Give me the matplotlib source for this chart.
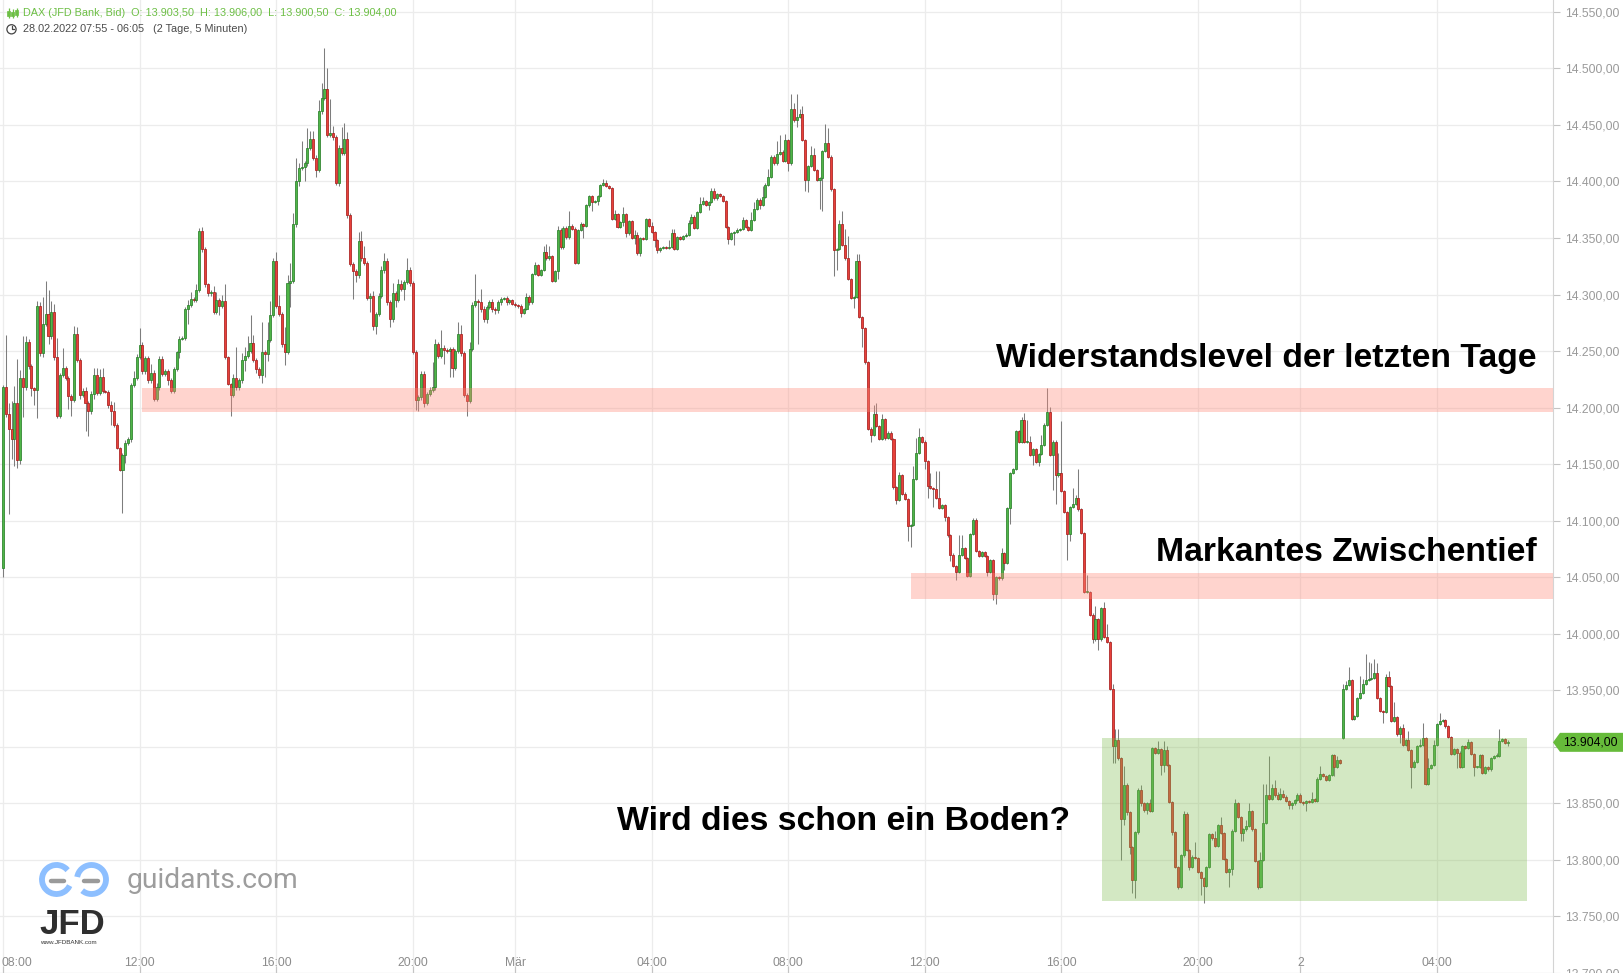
import numpy as np
import pandas as pd
import matplotlib
matplotlib.use("Agg")
import matplotlib.pyplot as plt
import matplotlib.transforms as mtransforms
from matplotlib.patches import Rectangle, Polygon, Arc, Circle

plt.rcParams['font.family'] = ['Liberation Sans', 'DejaVu Sans']

# ---------------- data ----------------
sessions = [("2022-02-28 08:00", "2022-02-28 21:55"),
            ("2022-02-28 23:00", "2022-03-01 21:55"),
            ("2022-03-01 23:00", "2022-03-02 06:05")]

first_open = 14058
gap_opens = {471: 13908}

closes = [
    14218,14194,14181,14172,14204,14154,14226,14218,14258,14237,
    14217,14216,14290,14248,14274,14283,14263,14285,14245,14193,
    14229,14235,14226,14210,14207,14265,14242,14211,14215,14204,
    14197,14212,14229,14213,14227,14215,14214,14202,14197,14185,
    14164,14145,14158,14169,14172,14220,14226,14245,14255,14232,
    14244,14224,14231,14208,14218,14243,14230,14232,14224,14215,
    14234,14249,14261,14262,14287,14291,14296,14295,14304,14356,
    14340,14309,14301,14302,14285,14295,14290,14294,14245,14221,
    14211,14226,14218,14224,14242,14246,14250,14257,14242,14234,
    14229,14249,14247,14260,14282,14330,14290,14283,14256,14249,
    14310,14312,14362,14400,14412,14413,14416,14430,14438,14421,
    14410,14462,14474,14482,14441,14443,14439,14399,14430,14425,
    14438,14370,14327,14321,14317,14347,14332,14328,14297,14299,
    14272,14283,14299,14322,14330,14293,14278,14301,14295,14309,
    14305,14311,14322,14310,14249,14207,14209,14230,14204,14212,
    14216,14218,14256,14246,14253,14251,14250,14252,14235,14250,
    14265,14248,14211,14206,14252,14291,14294,14293,14287,14278,
    14289,14293,14287,14286,14293,14296,14297,14293,14295,14292,
    14291,14290,14284,14287,14298,14293,14318,14326,14317,14322,
    14338,14332,14334,14312,14321,14357,14342,14359,14351,14361,
    14358,14328,14357,14362,14361,14379,14387,14382,14383,14387,
    14397,14399,14396,14394,14367,14371,14360,14364,14371,14354,
    14365,14350,14353,14337,14350,14349,14367,14361,14355,14348,
    14339,14341,14342,14341,14342,14354,14340,14351,14349,14352,
    14353,14363,14369,14359,14373,14380,14383,14379,14382,14392,
    14385,14389,14387,14383,14360,14349,14354,14355,14357,14358,
    14366,14360,14357,14366,14376,14384,14379,14386,14397,14404,
    14422,14416,14424,14426,14418,14437,14416,14464,14454,14457,
    14460,14437,14401,14414,14423,14410,14401,14403,14427,14434,
    14422,14393,14339,14340,14362,14344,14332,14314,14297,14298,
    14330,14280,14270,14240,14181,14176,14194,14184,14172,14190,
    14173,14178,14172,14130,14118,14140,14124,14119,14095,14096,
    14137,14160,14174,14170,14153,14131,14129,14128,14120,14111,
    14114,14103,14087,14070,14060,14055,14070,14076,14067,14051,
    14088,14101,14073,14069,14072,14069,14055,14065,14035,14050,
    14049,14071,14063,14111,14142,14146,14179,14170,14189,14170,
    14170,14158,14163,14152,14159,14167,14185,14196,14158,14170,
    14140,14142,14126,14108,14088,14112,14115,14120,14110,14089,
    14037,14037,14017,13995,14013,13995,14023,13997,13993,13951,
    13901,13906,13890,13836,13866,13842,13811,13782,13825,13862,
    13850,13844,13850,13843,13899,13895,13898,13884,13897,13884,
    13851,13825,13794,13776,13804,13841,13809,13794,13803,13802,
    13789,13784,13777,13794,13823,13819,13812,13831,13824,13801,
    13789,13792,13826,13850,13838,13824,13827,13830,13843,13827,
    13799,13776,13800,13833,13857,13854,13864,13857,13854,13858,
    13856,13852,13849,13850,13853,13857,13851,13850,13852,13851,
    13854,13852,13872,13876,13874,13871,13875,13893,13882,13888,
    13886,13951,13955,13959,13925,13927,13943,13948,13956,13959,
    13960,13961,13965,13943,13932,13931,13962,13954,13923,13926,
    13911,13917,13902,13906,13897,13882,13887,13901,13902,13908,
    13867,13881,13884,13902,13920,13923,13924,13918,13909,13894,
    13898,13895,13882,13901,13899,13904,13894,13882,13882,13893,
    13877,13882,13880,13890,13892,13892,13905,13907,13903.5,13904,
]

upper_wick = [
    2,46,10,25,15,39,7,37,5,3,  2,1,4,3,24,29,21,9,7,17,
    2,18,2,2,2,7,6,2,2,3,  2,3,6,6,7,8,1,2,4,8,
    1,1,2,2,2,2,6,2,15,3,  2,2,8,2,4,3,3,2,2,2,
    2,1,2,1,2,4,6,2,5,3,  4,2,1,2,6,7,2,6,15,1,
    1,4,28,2,6,8,13,25,7,2,  2,27,2,16,12,2,8,10,2,15,
    7,16,10,21,4,23,2,17,7,7,  2,10,13,36,18,30,6,2,2,18,
    14,6,2,2,2,8,9,11,2,2,  4,2,2,3,7,2,2,9,2,5,
    4,2,10,2,2,2,2,2,2,2,  2,22,5,2,16,2,2,2,2,2,
    11,8,2,2,6,2,24,2,12,3,  2,2,3,2,2,2,1,2,1,1,
    1,1,2,1,3,2,1,3,1,1,  5,7,9,1,1,4,2,2,2,13,
    1,2,1,2,1,1,1,1,1,1,  1,3,2,1,1,4,1,1,6,1,
    1,1,4,2,1,1,1,1,3,1,  1,1,1,1,6,4,4,1,1,1,
    1,3,2,1,1,6,3,1,1,2,  2,1,1,1,1,1,1,1,2,1,
    3,1,1,7,6,1,1,10,2,7,  1,1,12,15,2,5,1,13,5,20,
    4,7,1,1,8,7,1,1,1,17,  13,1,1,1,4,12,14,20,1,1,
    6,6,1,1,1,2,8,10,1,4,  1,1,1,1,1,3,1,1,1,1,
    11,13,8,1,1,1,11,1,16,24,  1,1,1,1,1,1,17,11,1,1,
    1,1,1,1,1,1,1,1,1,1,  1,5,1,1,1,1,1,1,3,6,
    19,5,1,1,1,9,1,21,5,1,  1,18,46,1,1,1,14,3,26,1,
    1,15,1,1,12,1,1,5,12,1,  5,10,10,1,17,2,1,1,1,2,
    4,1,1,4,1,1,7,1,8,4,  1,1,1,1,1,2,1,1,1,13,
    1,1,1,1,1,1,7,1,7,1,  1,1,1,4,1,1,1,5,7,1,
    1,1,7,34,10,35,3,7,3,6,  4,1,1,1,1,2,2,1,1,1,
    6,1,1,7,1,1,1,1,1,4,  1,5,3,12,1,1,1,15,4,23,
    15,13,13,9,1,1,2,5,1,14,  1,1,3,1,8,1,1,1,5,13,
    1,9,1,4,1,7,1,1,1,1,  1,1,1,1,1,3,1,1,1,1,
    1,1,1,1,1,3,11,1,1,2,
]

lower_wick = [
    8,2,75,17,24,7,4,26,2,3,  7,14,25,2,3,2,7,2,3,2,
    2,2,2,11,14,2,2,3,2,25,  22,3,4,2,2,2,1,2,12,2,
    1,1,38,7,2,2,2,2,2,2,  2,2,2,2,2,2,2,2,4,2,
    2,2,5,1,2,13,2,2,2,2,  2,2,2,2,2,2,8,2,2,1,
    18,2,2,2,2,10,2,2,2,3,  3,7,20,6,2,2,2,2,2,11,
    2,21,2,2,4,2,13,2,2,2,  6,2,2,2,2,2,2,2,3,2,
    2,2,2,25,6,2,2,2,2,12,  3,7,2,2,3,2,7,2,6,2,
    2,10,2,2,2,9,10,2,3,2,  2,2,2,2,2,12,2,23,8,2,
    2,2,2,13,2,2,2,37,2,2,  3,2,2,3,2,2,1,2,1,1,
    2,2,4,1,1,2,1,1,1,1,  1,1,1,1,1,7,2,2,2,2,
    1,1,1,1,11,1,2,8,1,4,  1,1,1,1,1,1,1,1,3,3,
    1,1,5,2,3,1,1,1,1,6,  2,1,1,1,1,1,1,1,1,1,
    1,1,1,1,1,1,1,1,4,1,  1,1,1,1,1,4,1,10,1,1,
    1,1,1,1,1,1,3,1,1,1,  1,1,1,1,1,1,7,1,1,6,
    1,1,9,10,1,1,1,25,29,1,  1,1,23,17,1,1,1,1,1,9,
    1,1,16,1,1,6,1,1,1,1,  2,1,1,2,3,1,1,1,13,18,
    1,1,1,1,7,11,1,16,1,1,  1,3,1,6,1,7,1,1,1,1,
    1,1,1,1,1,1,4,1,5,9,  1,1,7,1,14,1,1,1,1,1,
    1,1,9,1,4,1,1,1,1,31,  25,1,1,1,23,6,1,1,1,1,
    1,1,1,3,1,9,1,1,1,1,  15,15,2,36,5,2,6,11,16,2,
    2,2,3,1,1,1,1,9,6,1,  1,3,1,2,1,1,1,3,1,1,
    1,15,15,1,1,1,1,1,1,1,  1,13,5,1,1,7,7,1,1,1,
    1,2,1,1,1,1,1,1,1,1,  1,1,4,4,1,1,1,1,7,1,
    1,1,1,1,1,1,1,1,8,1,  1,1,1,1,1,1,1,1,1,1,
    1,1,1,1,1,10,1,1,1,1,  1,8,1,1,1,18,1,1,1,1,
    1,1,1,1,1,1,1,1,1,1,  1,14,1,1,1,1,1,8,1,1,
    1,1,1,1,1,1,1,1,1,3,
]

# zones (price low, price high, first candle index, last candle index)
resistance_zone = (14196, 14217, 48.9, None)
swing_low_zone = (14031, 14054, 319.0, None)
base_box = (13764, 13908, 386.3, 535.7)

y_ticks = list(range(13700, 14551, 50))
hour_ticks = [0, 4, 8, 12, 16, 20]
month_names = {3: "Mär"}

header1 = "DAX (JFD Bank, Bid)  O: 13.903,50  H: 13.906,00  L: 13.900,50  C: 13.904,00"
header2 = "28.02.2022 07:55 - 06:05   (2 Tage, 5 Minuten)"
label_resist = "Widerstandslevel der letzten Tage"
label_swing = "Markantes Zwischentief"
label_base = "Wird dies schon ein Boden?"

# ---------------- derived ----------------
times = pd.DatetimeIndex(np.concatenate(
    [pd.date_range(a, b, freq="5min").values for a, b in sessions]))
n = len(closes)
idx = np.arange(n)
c = np.array(closes, dtype=float)
o = np.empty(n)
o[0] = first_open
o[1:] = c[:-1]
for k, v in gap_opens.items():
    o[k] = v
hi = np.maximum(o, c) + np.array(upper_wick)
lo = np.minimum(o, c) - np.array(lower_wick)

def de_fmt(v):
    return f"{v:,.2f}".replace(",", "X").replace(".", ",").replace("X", ".")

# ---------------- figure ----------------
W, H = 1623, 973
fig = plt.figure(figsize=(W / 100, H / 100), dpi=100)
fig.patch.set_facecolor("white")
ax_right_px = 1553
ax = fig.add_axes([0, 0, ax_right_px / W, 1])
px_per_idx = 2.845
x0_px = 3.0
ax.set_xlim(-x0_px / px_per_idx, (ax_right_px - x0_px) / px_per_idx)
ax.set_ylim(13700.6, 14560.5)

# grid
tick_idx = [i for i, t in enumerate(times) if t.minute == 0 and t.hour in hour_ticks]
tick_lab = []
for i in tick_idx:
    t = times[i]
    if t.hour == 0:
        tick_lab.append(month_names.get(t.month, str(t.day)) if t.day == 1 else str(t.day))
    else:
        tick_lab.append(t.strftime("%H:%M"))
for i in tick_idx:
    ax.axvline(i, color="#ececec", lw=0.9, zorder=0)
for v in y_ticks:
    ax.axhline(v, color="#ececec", lw=0.9, zorder=0)

# candles
green_fill, green_edge = "#4fb548", "#2a802a"
red_fill, red_edge = "#e8413a", "#a81d1d"
up = c >= o
ax.vlines(idx, lo, hi, color="#7d7d7d", lw=0.75, zorder=2)
body_bot = np.minimum(o, c)
body_h = np.maximum(np.abs(c - o), 0.9)
ax.bar(idx, body_h, bottom=body_bot, width=0.72,
       color=np.where(up, green_fill, red_fill),
       edgecolor=np.where(up, green_edge, red_edge), linewidth=0.55, zorder=3)

# zones
xr = ax.get_xlim()[1]
for (z0, z1, xs, xe) in [resistance_zone, swing_low_zone]:
    xe = xr if xe is None else xe
    ax.add_patch(Rectangle((xs, z0), xe - xs, z1 - z0, facecolor="#ff8a78",
                           alpha=0.36, edgecolor="none", zorder=4))
z0, z1, xs, xe = base_box
ax.add_patch(Rectangle((xs, z0), xe - xs, z1 - z0, facecolor="#80bd50",
                       alpha=0.34, edgecolor="none", zorder=4))

# axes styling
for s in ["top", "left"]:
    ax.spines[s].set_visible(False)
ax.spines["right"].set_color("#d4d4d4")
ax.spines["bottom"].set_color("#e2e2e2")
ax.yaxis.tick_right()
ax.set_yticks(y_ticks)
last_close = closes[-1]
ax.set_yticklabels(["" if abs(v - last_close) < 10 else de_fmt(v) for v in y_ticks])
ax.tick_params(axis="y", direction="out", length=5, color="#c4c4c4",
               labelcolor="#9a9a9a", labelsize=8.7, pad=4)
ax.set_xticks(tick_idx)
ax.set_xticklabels([])
ax.tick_params(axis="x", direction="in", length=5, color="#c4c4c4")
bt = mtransforms.blended_transform_factory(ax.transData, ax.transAxes)
for k, (i, lab) in enumerate(zip(tick_idx, tick_lab)):
    if k == 0:
        ax.text(ax.get_xlim()[0] + 0.7, 10 / H, lab, transform=bt, ha="left",
                va="center", fontsize=8.7, color="#8c8c8c", zorder=6)
    else:
        ax.text(i, 10 / H, lab, transform=bt, ha="center", va="center",
                fontsize=8.7, color="#8c8c8c", zorder=6)

# ---------------- overlay (pixel coordinates) ----------------
ov = fig.add_axes([0, 0, 1, 1], zorder=10)
ov.set_xlim(0, W)
ov.set_ylim(H, 0)
ov.axis("off")
ov.patch.set_visible(False)

# header icon (three small candles)
g = "#6dbf45"
for xx, top, bot, b0, b1 in [(8.5, 8, 18, 11, 15.5), (12.5, 9, 18, 12, 16), (16.5, 8, 17, 10, 14.5)]:
    ov.plot([xx, xx], [top, bot], color=g, lw=0.9, solid_capstyle="butt")
    ov.add_patch(Rectangle((xx - 1.4, b0), 2.8, b1 - b0, facecolor=g, edgecolor=g, lw=0.5))
ov.text(23, 13.3, header1, color=g, fontsize=7.8, ha="left", va="center")
ov.add_patch(Circle((11.5, 29.3), 4.6, fill=False, edgecolor="#444444", lw=0.9))
ov.plot([11.5, 11.5, 14.0], [26.3, 29.3, 29.3], color="#444444", lw=0.9)
ov.text(23, 29.3, header2, color="#4a4a4a", fontsize=7.8, ha="left", va="center")

# annotations
ov.text(1537, 367, label_resist, fontsize=24.3, fontweight="bold", color="black",
        ha="right", va="baseline")
ov.text(1537, 561, label_swing, fontsize=24.3, fontweight="bold", color="black",
        ha="right", va="baseline")
ov.text(617, 830, label_base, fontsize=24.3, fontweight="bold", color="black",
        ha="left", va="baseline")

# price marker
y_last = H - ax.transData.transform((0, last_close))[1]
ov.add_patch(Polygon([(1553, y_last), (1560, y_last - 9.5), (W, y_last - 9.5),
                      (W, y_last + 9.5), (1560, y_last + 9.5)], closed=True,
                     facecolor="#66bb3a", edgecolor="none"))
ov.text(1563, y_last, de_fmt(last_close), fontsize=8.7, color="black",
        ha="left", va="center")

# logo
blue = "#8dbfff"
ov.add_patch(Arc((56.5, 879.5), 29, 29, theta1=25, theta2=320, color=blue, lw=4.2))
ov.add_patch(Arc((91.5, 879.5), 29, 29, theta1=190, theta2=490, color=blue, lw=4.2))
ov.plot([51, 64], [881, 881], color="#9a9a9a", lw=3.2, solid_capstyle="round")
ov.plot([84, 98], [881, 881], color="#9a9a9a", lw=3.2, solid_capstyle="round")
ov.text(127, 880, "guidants.com", fontsize=20.3, color="#9d9d9d", ha="left",
        va="center", family=["Roboto", "DejaVu Sans"])
ov.text(39, 925, "JFD", fontsize=25, fontweight="bold", color="#2f2f2f", ha="left",
        va="center")
ov.text(40, 943, "www.JFDBANK.com", fontsize=4.5, color="#333333", ha="left", va="center")

fig.savefig("out.png", dpi=100)
